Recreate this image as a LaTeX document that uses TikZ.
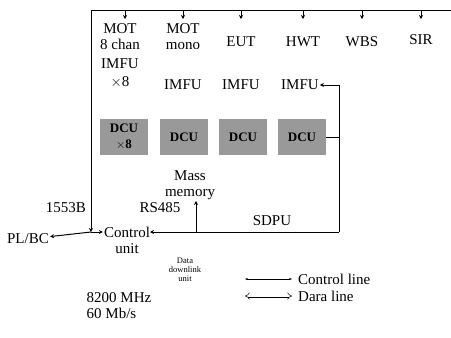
\documentclass[tikz,border=0pt]{standalone}
\usepackage{fontspec}
\setmainfont{Liberation Serif}
\usetikzlibrary{arrows.meta,positioning}

\begin{document}
\begin{tikzpicture}[
  x=1pt, y=-1pt,
  lbl/.style={align=center, inner sep=1pt, font=\fontsize{15}{16}\selectfont},
  small lbl/.style={align=center, inner sep=1pt, font=\fontsize{8.5}{9}\selectfont},
  dcubox/.style={rectangle, fill=black!40, minimum width=48pt, minimum height=36pt, inner sep=0pt,
                 align=center, font=\fontsize{13}{15}\selectfont\bfseries},
  bus/.style={line width=1pt},
  ctl/.style={line width=1pt, -{Stealth[length=4pt,width=4pt]}},
  >=Stealth
]
  \useasboundingbox (0,0) rectangle (451,338);

  % Units on the bus
  \node[lbl] (mot8) at (120,37) {MOT\\8 chan};
  \node[lbl] (motm) at (183,37) {MOT\\mono};
  \node[lbl] (eut)  at (241,42) {EUT};
  \node[lbl] (hwt)  at (303,42) {HWT};
  \node[lbl] (wbs)  at (362,42) {WBS};
  \node[lbl] (sir)  at (421,40) {SIR};

  \node[lbl, font=\fontsize{15}{18}\selectfont] (imfu1) at (120,73) {IMFU\\$\times$8};
  \node[lbl] (imfu2) at (183,85) {IMFU};
  \node[lbl] (imfu3) at (241,85) {IMFU};
  \node[lbl] (imfu4) at (300,85) {IMFU};

  \node[dcubox] (dcu1) at (124,137) {DCU\\[1pt]$\times$8};
  \node[dcubox] (dcu2) at (184,137) {DCU};
  \node[dcubox] (dcu3) at (243,137) {DCU};
  \node[dcubox] (dcu4) at (302,137) {DCU};

  \node[lbl] (mass)  at (190,185) {Mass\\memory};
  \node[lbl] (rs485) at (160,208) {RS485};
  \node[lbl] (b1553) at (66,208)  {1553B};
  \node[lbl] (sdpu)  at (272,221) {SDPU};
  \node[lbl] (plbc)  at (28,239)  {PL/BC};
  \node[lbl] (ctrl)  at (127,240) {Control\\unit};
  \node[small lbl] (ddu) at (185,270) {Data\\downlink\\unit};
  \node[lbl, align=left] (freq) at (119,306) {8200 MHz\\60 Mb/s};

  % Bus lines
  \coordinate (tl) at (91,10);
  \coordinate (tr) at (451,10);
  \coordinate (jn) at (91,232);
  \coordinate (br) at (339,232);
  \coordinate (bl) at (150,232);
  \coordinate (mm) at (196,232);
  \draw[bus] (tl) -- (tr);
  \foreach \x in {125,183,241,303,362,421}
    \draw[ctl] (\x,10) -- (\x,19);
  \draw[ctl] (tl) -- (jn);
  \draw[ctl] (jn) -- (plbc);
  \draw[ctl] (jn) -- (ctrl.west |- jn);
  \draw[ctl] (br) -- (bl);
  \draw[ctl] (mm) -- (196,201);
  \draw[bus] (br) -- (339,85);
  \draw[ctl] (339,85) -- (imfu4.east);
  \draw[bus] (dcu4.east) -- (dcu4.east -| br);

  % Legend
  \coordinate (lg1a) at (245,279);
  \coordinate (lg1b) at (292,279);
  \coordinate (lg2a) at (245,296);
  \coordinate (lg2b) at (292,296);
  \node[lbl, anchor=west] (lgc) at (297,279) {Control line};
  \node[lbl, anchor=west] (lgd) at (297,296) {Dara line};
  \draw[bus, {Stealth[length=3pt]}-{Stealth[length=3pt]}] (lg1a) -- (lg1b);
  \draw[double, double distance=2pt, line width=0.5pt, {Implies}-{Implies}] (lg2a) -- (lg2b);
\end{tikzpicture}
\end{document}
